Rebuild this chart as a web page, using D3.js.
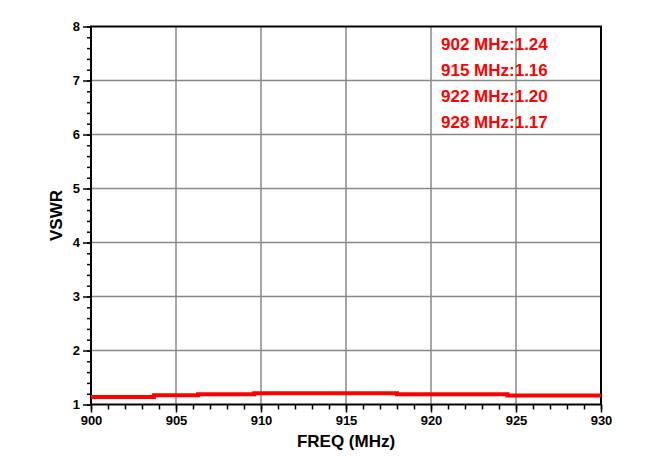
<!DOCTYPE html>
<html><head><meta charset="utf-8">
<script src="https://cdn.jsdelivr.net/npm/d3@7"></script>
<style>body{margin:0;background:#fff}text{font-family:"Liberation Sans",Arial,sans-serif;font-weight:bold}</style>
</head><body><svg width="666" height="474"></svg>
<script>
var freqs = [900, 903.7, 906.3, 909.6, 918, 924.5, 930];
var vswr = [1.14, 1.17, 1.19, 1.21, 1.19, 1.165, 1.165];
var xTicks = [900, 905, 910, 915, 920, 925, 930];
var yTicks = [1, 2, 3, 4, 5, 6, 7, 8];
var notes = ["902 MHz:1.24", "915 MHz:1.16", "922 MHz:1.20", "928 MHz:1.17"];

var svg = d3.select("svg");
var L = 91, R = 601, T = 26.5, B = 404.5;
var x = d3.scaleLinear().domain([900, 930]).range([L, R]);
var y = d3.scaleLinear().domain([1, 8]).range([B, T]);

// grid
svg.append("g").selectAll("line").data(xTicks.slice(1, -1)).enter().append("line")
  .attr("x1", x).attr("x2", x).attr("y1", T).attr("y2", B)
  .attr("stroke", "#888").attr("stroke-width", 1.5);
svg.append("g").selectAll("line").data(yTicks.slice(1, -1)).enter().append("line")
  .attr("y1", y).attr("y2", y).attr("x1", L).attr("x2", R)
  .attr("stroke", "#888").attr("stroke-width", 1.5);

// minor ticks
svg.append("g").attr("transform", "translate(0," + B + ")")
  .call(d3.axisBottom(x).ticks(30).tickSize(5).tickFormat(""))
  .call(function(g){ g.select(".domain").remove(); g.selectAll("line").attr("stroke-width", 1.5); });
svg.append("g").attr("transform", "translate(" + L + ",0)")
  .call(d3.axisLeft(y).ticks(35).tickSize(4).tickFormat(""))
  .call(function(g){ g.select(".domain").remove(); g.selectAll("line").attr("stroke-width", 1.5); });

// major ticks + labels
svg.append("g").attr("transform", "translate(0," + B + ")")
  .call(d3.axisBottom(x).tickValues(xTicks).tickSize(8).tickPadding(3).tickFormat(d3.format("d")))
  .call(function(g){ g.select(".domain").remove(); g.selectAll("line").attr("stroke-width", 1.5);
    g.selectAll("text").attr("font-size", 13).attr("fill", "#000"); });
svg.append("g").attr("transform", "translate(" + L + ",0)")
  .call(d3.axisLeft(y).tickValues(yTicks).tickSize(8).tickPadding(3).tickFormat(d3.format("d")))
  .call(function(g){ g.select(".domain").remove(); g.selectAll("line").attr("stroke-width", 1.5);
    g.selectAll("text").attr("font-size", 13).attr("fill", "#000"); });

// frame
svg.append("rect").attr("x", L).attr("y", T).attr("width", R - L).attr("height", B - T)
  .attr("fill", "none").attr("stroke", "#000").attr("stroke-width", 2);

// data
var line = d3.line().x(function(d){ return x(d[0]); }).y(function(d){ return y(d[1]); }).curve(d3.curveStepAfter);
svg.append("path").datum(freqs.map(function(f, i){ return [f, vswr[i]]; }))
  .attr("d", line).attr("fill", "none").attr("stroke", "#f00").attr("stroke-width", 4);

// notes
svg.append("g").selectAll("text").data(notes).enter().append("text")
  .attr("x", 441).attr("y", function(d, i){ return 50 + i * 26; })
  .attr("font-size", 17).attr("fill", "#f00").text(function(d){ return d; });

// axis titles
svg.append("text").attr("x", (L + R) / 2).attr("y", 447).attr("text-anchor", "middle")
  .attr("font-size", 17).text("FREQ (MHz)");
svg.append("text").attr("transform", "translate(62," + ((T + B) / 2) + ") rotate(-90)")
  .attr("text-anchor", "middle").attr("font-size", 17).text("VSWR");
</script></body></html>
